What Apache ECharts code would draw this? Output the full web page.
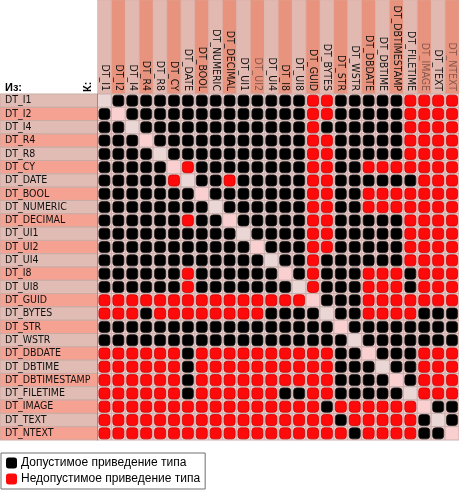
<!DOCTYPE html>
<html><head><meta charset="utf-8">
<script src="https://cdn.jsdelivr.net/npm/echarts@6/dist/echarts.min.js"></script>
<style>html,body{margin:0;padding:0;background:#fff}#c{width:459px;height:492px}</style>
</head><body><div id="c"></div>
<script>
const types = ['DT_I1','DT_I2','DT_I4','DT_R4','DT_R8','DT_CY','DT_DATE','DT_BOOL','DT_NUMERIC','DT_DECIMAL','DT_UI1','DT_UI2','DT_UI4','DT_I8','DT_UI8','DT_GUID','DT_BYTES','DT_STR','DT_WSTR','DT_DBDATE','DT_DBTIME','DT_DBTIMESTAMP','DT_FILETIME','DT_IMAGE','DT_TEXT','DT_NTEXT'];
const n = null;
// 1 = allowed (black), 0 = not allowed (red), null = same type
const fromI1 = [n,1,1,1,1,1,1,1,1,1,1,1,1,1,1,0,0,1,1,1,1,1,0,0,0,0];
const fromI2 = [1,n,1,1,1,1,1,1,1,1,1,1,1,1,1,0,0,1,1,1,1,1,0,0,0,0];
const fromI4 = [1,1,n,1,1,1,1,1,1,1,1,1,1,1,1,0,1,1,1,1,1,1,0,0,0,0];
const fromR4 = [1,1,1,n,1,1,1,1,1,1,1,1,1,1,1,0,0,1,1,1,1,1,0,0,0,0];
const fromR8 = [1,1,1,1,n,1,1,1,1,1,1,1,1,1,1,0,0,1,1,1,1,1,0,0,0,0];
const fromCY = [1,1,1,1,1,n,0,1,1,1,1,1,1,1,1,0,0,1,1,0,0,0,0,0,0,0];
const fromDATE = [1,1,1,1,1,0,n,1,1,0,1,1,1,1,1,0,0,1,1,1,1,1,1,0,0,0];
const fromBOOL = [1,1,1,1,1,1,1,n,1,1,1,1,1,1,1,0,0,1,1,0,0,0,0,0,0,0];
const fromNUMERIC = [1,1,1,1,1,1,1,1,n,1,1,1,1,1,1,0,0,1,1,0,0,0,0,0,0,0];
const fromDECIMAL = [1,1,1,1,1,1,0,1,1,n,1,1,1,1,1,0,0,1,1,1,1,1,0,0,0,0];
const fromUI1 = [1,1,1,1,1,1,1,1,1,1,n,1,1,1,1,0,0,1,1,1,1,1,0,0,0,0];
const fromUI2 = [1,1,1,1,1,1,1,1,1,1,1,n,1,1,1,0,0,1,1,1,1,1,0,0,0,0];
const fromUI4 = [1,1,1,1,1,1,1,1,1,1,1,1,n,1,1,0,1,1,1,1,1,1,0,0,0,0];
const fromI8 = [1,1,1,1,1,1,0,1,1,1,1,1,1,n,1,0,1,1,1,0,0,0,1,0,0,0];
const fromUI8 = [1,1,1,1,1,1,0,1,1,1,1,1,1,1,n,0,1,1,1,0,0,0,1,0,0,0];
const fromGUID = [0,0,0,0,0,0,0,0,0,0,0,0,0,0,0,n,1,1,1,0,0,0,0,0,0,0];
const fromBYTES = [0,0,0,1,0,0,0,0,0,0,0,0,1,1,1,1,n,1,1,0,0,0,0,1,1,1];
const fromSTR = [1,1,1,1,1,1,1,1,1,1,1,1,1,1,1,1,1,n,1,1,1,1,1,1,1,1];
const fromWSTR = [1,1,1,1,1,1,1,1,1,1,1,1,1,1,1,1,1,1,n,1,1,1,1,1,1,1];
const fromDBDATE = [0,0,0,0,0,0,1,0,0,0,0,0,0,0,0,0,0,1,1,n,1,1,1,0,0,0];
const fromDBTIME = [0,0,0,0,0,0,1,0,0,0,0,0,0,0,0,0,0,1,1,1,n,1,1,0,0,0];
const fromDBTIMESTAMP = [0,0,0,0,0,0,1,0,0,0,0,0,0,0,0,0,0,1,1,1,1,n,1,0,0,0];
const fromFILETIME = [0,0,0,0,0,0,1,0,0,0,0,0,0,1,1,0,0,1,1,1,1,1,n,0,0,0];
const fromIMAGE = [0,0,0,0,0,0,0,0,0,0,0,0,0,0,0,0,1,0,0,0,0,0,0,n,1,1];
const fromTEXT = [0,0,0,0,0,0,0,0,0,0,0,0,0,0,0,0,0,1,0,0,0,0,0,1,n,1];
const fromNTEXT = [0,0,0,0,0,0,0,0,0,0,0,0,0,0,0,0,0,0,1,0,0,0,0,1,1,n];
const matrix = [fromI1,fromI2,fromI4,fromR4,fromR8,fromCY,fromDATE,fromBOOL,fromNUMERIC,fromDECIMAL,fromUI1,fromUI2,fromUI4,fromI8,fromUI8,fromGUID,fromBYTES,fromSTR,fromWSTR,fromDBDATE,fromDBTIME,fromDBTIMESTAMP,fromFILETIME,fromIMAGE,fromTEXT,fromNTEXT];
const legendNames = ['Допустимое приведение типа','Недопустимое приведение типа'];
const dimHeaders = ['DT_UI2','DT_IMAGE','DT_NTEXT'];

const cells = [], okCells = [], badCells = [];
matrix.forEach((row, r) => row.forEach((v, c) => {
  cells.push([c, r, v === null ? 1 : 0]);
  if (v === 1) okCells.push([c, r]);
  else if (v === 0) badCells.push([c, r]);
}));
const bands = types.map((t, i) => [i, i]);

const labelFont = "'DejaVu Sans Condensed','Liberation Sans Narrow','Liberation Sans',sans-serif";

function bandItem(params, api) {
  const i = api.value(0);
  const cs = params.coordSys;
  const p = api.coord([i, i]);
  const s = api.size([1, 1]);
  const odd = i % 2 === 1;
  return {
    type: 'group',
    children: [
      { type: 'rect', shape: { x: p[0] - s[0] / 2, y: 0, width: s[0], height: cs.y },
        style: { fill: odd ? '#e8937d' : '#e2b9b1', stroke: '#d9aaa2', lineWidth: 0.5 } },
      { type: 'rect', shape: { x: 0, y: p[1] - s[1] / 2, width: cs.x, height: s[1] },
        style: { fill: odd ? '#f5a293' : '#e1bcb4', stroke: '#c9aca6', lineWidth: 1 } }
    ]
  };
}
function cellItem(params, api) {
  const c = api.value(0), r = api.value(1), diag = api.value(2);
  const p = api.coord([c, r]);
  const s = api.size([1, 1]);
  let fill = '#f3cfcd';
  if (diag) fill = c % 2 === 1 ? '#f9cfd0' : '#ead6d4';
  return { type: 'rect', shape: { x: p[0] - s[0] / 2, y: p[1] - s[1] / 2, width: s[0], height: s[1] },
    style: { fill: fill, stroke: '#c8b2b0', lineWidth: 1 } };
}
function markerItem(fill, stroke) {
  return function (params, api) {
    const p = api.coord([api.value(0), api.value(1)]);
    const w = 11, h = 11;
    return { type: 'rect', shape: { x: p[0] - w / 2, y: p[1] - h / 2, width: w, height: h, r: 3 },
      style: { fill: fill, stroke: stroke, lineWidth: 0.8 } };
  };
}

const chart = echarts.init(document.getElementById('c'), null, { renderer: 'canvas' });
chart.setOption({
  animation: false,
  backgroundColor: '#fff',
  grid: { left: 97.5, top: 94, width: 361.5, height: 346 },
  xAxis: {
    type: 'category', data: types, position: 'top', z: 10,
    axisLine: { show: false }, axisTick: { show: false }, splitLine: { show: false },
    axisLabel: {
      rotate: 90, margin: 3, interval: 0, fontSize: 10.5, fontFamily: labelFont, color: '#111',
      formatter: v => dimHeaders.includes(v) ? '{d|' + v + '}' : v,
      rich: { d: { color: '#86584e', fontSize: 10.5, fontFamily: labelFont } }
    }
  },
  yAxis: {
    type: 'category', data: types, inverse: true, z: 10,
    axisLine: { show: true, lineStyle: { color: '#9c8a88', width: 1 } },
    axisTick: { show: false }, splitLine: { show: false },
    axisLabel: { interval: 0, align: 'left', margin: 92.5, fontSize: 10.5, fontFamily: labelFont, color: '#111' }
  },
  legend: {
    data: legendNames, orient: 'vertical', left: 1, top: 453,
    icon: 'roundRect', itemWidth: 11, itemHeight: 11, itemGap: 4,
    padding: [4, 5, 4, 5], borderColor: '#707070', borderWidth: 1, backgroundColor: '#fff',
    selectedMode: false,
    textStyle: { fontSize: 12, fontFamily: "'Liberation Sans',Arial,sans-serif", color: '#000', padding: [0, 0, 0, -1] }
  },
  graphic: [
    { type: 'text', left: 5, top: 82, z: 20, style: { text: 'Из:', font: "bold 11px 'Liberation Sans',Arial,sans-serif", fill: '#000' } },
    { type: 'text', x: 82, y: 92, rotation: Math.PI / 2, z: 20, style: { text: 'К:', font: "bold 11px 'Liberation Sans',Arial,sans-serif", fill: '#000' } }
  ],
  series: [
    { type: 'custom', name: 'bands', data: bands, renderItem: bandItem, clip: false, silent: true, z: 1 },
    { type: 'custom', name: 'cells', data: cells, renderItem: cellItem, silent: true, z: 2 },
    { type: 'custom', name: legendNames[0], data: okCells, renderItem: markerItem('#000', '#1a1a1a'), itemStyle: { color: '#000' }, z: 3 },
    { type: 'custom', name: legendNames[1], data: badCells, renderItem: markerItem('#ff0a0a', '#cc0000'), itemStyle: { color: '#ff0a0a' }, z: 3 }
  ]
});
</script></body></html>
